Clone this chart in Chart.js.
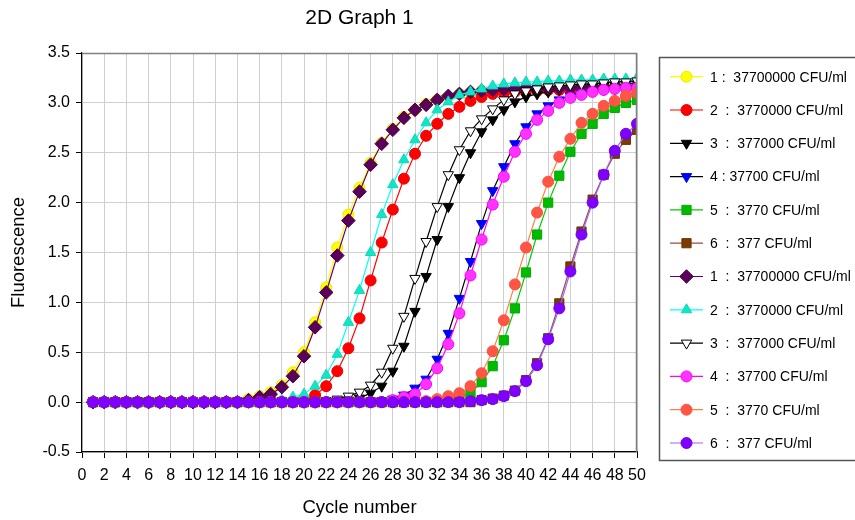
<!DOCTYPE html>
<html>
<head>
<meta charset="utf-8">
<script src="https://cdn.jsdelivr.net/npm/chart.js@4"></script>
<style>
  body { margin: 0; background: #fff; }
  #wrap { width: 855px; height: 520px; }
</style>
</head>
<body>
<div id="wrap"><canvas id="myChart" width="855" height="520"></canvas></div>
<script>
// cycle numbers (x)
const cycles = [1,2,3,4,5,6,7,8,9,10,11,12,13,14,15,16,17,18,19,20,21,22,23,24,25,
  26,27,28,29,30,31,32,33,34,35,36,37,38,39,40,41,42,43,44,45,46,47,48,49,50]

// fluorescence per cycle
const yellow1 = [0,0,0,0,0,0,0,0,0,0, 0,0,0,0,0.03,0.06,0.10,0.17,0.30,0.50,
  0.80,1.15,1.55,1.88,2.15,2.40,2.60,2.74,2.86,2.93, 2.99,3.03,3.06,3.09,3.10,3.12,3.13,3.13,3.14,3.14,
  3.15,3.15,3.15,3.16,3.16,3.16,3.16,3.17,3.17,3.17]
const red2 = [0,0,0,0,0,0,0,0,0,0, 0,0,0,0,0,0,0,0,0.01,0.03,
  0.07,0.16,0.31,0.54,0.84,1.22,1.60,1.93,2.24,2.49, 2.67,2.79,2.89,2.96,3.02,3.06,3.09,3.10,3.11,3.12,
  3.12,3.13,3.13,3.13,3.14,3.14,3.14,3.15,3.15,3.15]
const black3 = [0,0,0,0,0,0,0,0,0,0, 0,0,0,0,0,0,0,0,0,0,
  0,0,0,0.02,0.04,0.09,0.16,0.31,0.56,0.91, 1.26,1.63,1.96,2.25,2.50,2.71,2.83,2.93,3.01,3.06,
  3.09,3.11,3.13,3.14,3.15,3.16,3.17,3.18,3.19,3.20]
const blue4 = [0,0,0,0,0,0,0,0,0,0, 0,0,0,0,0,0,0,0,0,0,
  0,0,0,0,0,0,0.01,0.03,0.07,0.14, 0.23,0.43,0.69,1.04,1.41,1.79,2.12,2.36,2.59,2.76,
  2.89,2.97,3.03,3.07,3.10,3.12,3.13,3.14,3.15,3.16]
const green5 = [0,0,0,0,0,0,0,0,0,0, 0,0,0,0,0,0,0,0,0,0,
  0,0,0,0,0,0,0,0,0,0, 0,0,0.01,0.04,0.09,0.20,0.36,0.62,0.94,1.30,
  1.68,2.00,2.27,2.51,2.69,2.79,2.89,2.95,3.00,3.03]
const brown6 = [0,0,0,0,0,0,0,0,0,0, 0,0,0,0,0,0,0,0,0,0,
  0,0,0,0,0,0,0,0,0,0, 0,0,0,0,0,0.02,0.035,0.065,0.115,0.22,
  0.39,0.64,0.99,1.36,1.71,2.03,2.28,2.49,2.63,2.73]
const plum1 = [0,0,0,0,0,0,0,0,0,0, 0,0,0,0,0.02,0.05,0.08,0.15,0.26,0.46,
  0.75,1.10,1.47,1.82,2.11,2.38,2.59,2.73,2.85,2.93, 2.98,3.03,3.07,3.09,3.11,3.12,3.13,3.14,3.14,3.15,
  3.15,3.15,3.15,3.15,3.16,3.16,3.16,3.16,3.16,3.16]
const cyan2 = [0,0,0,0,0,0,0,0,0,0, 0,0,0,0,0,0,0,0.02,0.05,0.08,
  0.16,0.27,0.48,0.80,1.12,1.50,1.88,2.18,2.43,2.63, 2.80,2.93,3.01,3.08,3.11,3.14,3.17,3.19,3.20,3.21,
  3.21,3.22,3.22,3.23,3.23,3.23,3.24,3.24,3.24,3.25]
const open3 = [0,0,0,0,0,0,0,0,0,0, 0,0,0,0,0,0,0,0,0,0,
  0,0.01,0.03,0.06,0.10,0.17,0.30,0.54,0.86,1.24, 1.61,1.96,2.28,2.53,2.72,2.84,2.94,3.03,3.09,3.12,
  3.14,3.16,3.17,3.18,3.19,3.19,3.20,3.21,3.21,3.22]
const magenta4 = [0,0,0,0,0,0,0,0,0,0, 0,0,0,0,0,0,0,0,0,0,
  0,0,0,0,0,0,0,0.02,0.05,0.08, 0.18,0.34,0.58,0.89,1.27,1.63,1.98,2.26,2.51,2.69,
  2.83,2.92,3.00,3.05,3.08,3.11,3.13,3.14,3.15,3.15]
const orange5 = [0,0,0,0,0,0,0,0,0,0, 0,0,0,0,0,0,0,0,0,0,
  0,0,0,0,0,0,0,0,0,0, 0.01,0.03,0.06,0.09,0.16,0.29,0.51,0.82,1.18,1.55,
  1.90,2.21,2.46,2.64,2.80,2.89,2.97,3.02,3.07,3.10]
const purple6 = [0,0,0,0,0,0,0,0,0,0, 0,0,0,0,0,0,0,0,0,0,
  0,0,0,0,0,0,0,0,0,0, 0,0,0,0,0.01,0.02,0.03,0.06,0.11,0.21,
  0.37,0.63,0.94,1.31,1.68,2.00,2.28,2.52,2.69,2.79]

const seriesNames = ['1 :  37700000 CFU/ml','2  :  3770000 CFU/ml','3  :  377000 CFU/ml','4 : 37700 CFU/ml',
  '5  :  3770 CFU/ml','6  :  377 CFU/ml','1  :  37700000 CFU/ml','2  :  3770000 CFU/ml','3  :  377000 CFU/ml',
  '4  :  37700 CFU/ml','5  :  3770 CFU/ml','6  :  377 CFU/ml']
const seriesValues = [yellow1,red2,black3,blue4,green5,brown6,plum1,cyan2,open3,magenta4,orange5,purple6]

// line colour, marker fill, marker edge, marker shape, rotation, size
const looks = [
  ['#ffff00','#ffff00','#e8e800','circle',0,5.5],
  ['#ff0000','#ff0000','#ee0000','circle',0,5.5],
  ['#000000','#000000','#000000','triangle',180,6],
  ['#000000','#0000ff','#0000ee','triangle',180,6],
  ['#00cc00','#00bb00','#00aa00','rect',0,6.5],
  ['#a04a3a','#7a3d00','#6a3500','rect',0,6.5],
  ['#660066','#5a005a','#4a004a','rectRot',0,6.8],
  ['#00ffff','#10e6c6','#10d6b6','triangle',0,6],
  ['#000000','#ffffff','#000000','triangle',180,6],
  ['#ff00ff','#ff33ff','#ff00ff','circle',0,5.5],
  ['#ff8040','#ff5545','#ff4f3f','circle',0,5.5],
  ['#9966ff','#8000ff','#7400ee','circle',0,5.5]
]

const FONT = '"Liberation Sans", Arial, sans-serif'

data_datasets = []
for(i=0;i<seriesValues.length;i++){
	pts = []
	for(j=0;j<cycles.length;j++){
		pts.push({x: cycles[j], y: seriesValues[i][j]})
	}
	data_datasets.push({
		label: seriesNames[i],
		data: pts,
		borderColor: looks[i][0],
		borderWidth: 1.2,
		pointBackgroundColor: looks[i][1],
		pointBorderColor: looks[i][2],
		pointBorderWidth: 1,
		pointStyle: looks[i][3],
		pointRotation: looks[i][4],
		pointRadius: looks[i][5],
		tension: 0,
		order: 12 - i
	})
}

// titles, plot frame and the boxed legend on the right
const decor = {
	id: 'decor',
	afterDraw(chart){
		const ctx = chart.ctx
		const a = chart.chartArea
		ctx.save()
		ctx.strokeStyle = '#808080'
		ctx.lineWidth = 1.5
		ctx.beginPath()
		ctx.moveTo(a.left, a.top + 0.5)
		ctx.lineTo(a.right - 0.5, a.top + 0.5)
		ctx.lineTo(a.right - 0.5, a.bottom)
		ctx.stroke()

		ctx.fillStyle = '#000'
		ctx.textAlign = 'center'
		ctx.textBaseline = 'middle'
		ctx.font = '21px ' + FONT
		ctx.fillText('2D Graph 1', (a.left + a.right) / 2, 18)
		ctx.font = '18.5px ' + FONT
		ctx.fillText('Cycle number', (a.left + a.right) / 2, 508)
		ctx.save()
		ctx.translate(19, (a.top + a.bottom) / 2)
		ctx.rotate(-Math.PI / 2)
		ctx.fillText('Fluorescence', 0, 0)
		ctx.restore()

		// legend box
		ctx.strokeStyle = '#555'
		ctx.lineWidth = 1.5
		ctx.strokeRect(659.5, 57.5, 210, 403)
		ctx.font = '14px ' + FONT
		ctx.textAlign = 'left'
		for(k=0;k<data_datasets.length;k++){
			ds = data_datasets[k]
			y = 76.7 + 33.3 * k
			ctx.strokeStyle = ds.borderColor
			ctx.lineWidth = 1.2
			ctx.beginPath()
			ctx.moveTo(670, y)
			ctx.lineTo(703, y)
			ctx.stroke()
			ctx.fillStyle = ds.pointBackgroundColor
			ctx.strokeStyle = ds.pointBorderColor
			ctx.lineWidth = 1
			Chart.helpers.drawPoint(ctx, {pointStyle: ds.pointStyle, rotation: ds.pointRotation, radius: ds.pointRadius, borderWidth: 1}, 686.5, y)
			ctx.fillStyle = '#000'
			ctx.fillText(ds.label, 710, y + 1)
		}
		ctx.restore()
	}
}

const myNewChart = new Chart(document.getElementById('myChart'), {
	type: 'line',
	data: { datasets: data_datasets },
	plugins: [decor],
	options: {
		responsive: false,
		animation: false,
		layout: { padding: { top: 53, right: 218, left: 0, bottom: 0 } },
		scales: {
			x: {
				type: 'linear',
				min: 0, max: 50,
				afterFit(scale){ scale.height = 68 },
				ticks: { stepSize: 2, color: '#000', font: { size: 16, family: FONT }, padding: 8, maxRotation: 0, autoSkip: false },
				grid: { color: '#cfcfcf', tickColor: '#000', tickLength: 6 },
				border: { color: '#000', width: 1.2 }
			},
			y: {
				min: -0.5, max: 3.5,
				afterFit(scale){ scale.width = 82 },
				ticks: { stepSize: 0.5, color: '#000', font: { size: 16, family: FONT }, padding: 6,
					callback: function(v){ return v.toFixed(1) } },
				grid: { color: '#cfcfcf', tickColor: '#000', tickLength: 6 },
				border: { color: '#000', width: 1.2 }
			}
		},
		plugins: {
			legend: { display: false },
			title: { display: false },
			tooltip: { enabled: false }
		}
	}
})
</script>
</body>
</html>
